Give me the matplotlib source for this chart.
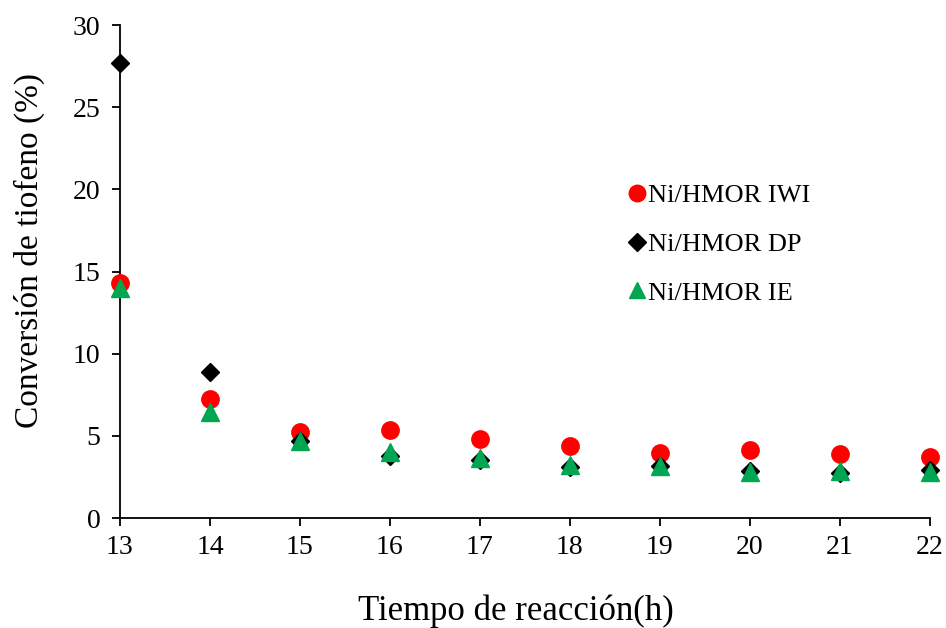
import matplotlib.pyplot as plt

plt.rcParams['font.family'] = ['Liberation Serif', 'DejaVu Serif']

tiempo = [13, 14, 15, 16, 17, 18, 19, 20, 21, 22]
iwi = [14.3, 7.25, 5.25, 5.36, 4.8, 4.38, 3.94, 4.14, 3.92, 3.73]
dp = [27.7, 8.9, 4.7, 3.75, 3.55, 3.12, 3.16, 2.88, 2.72, 2.92]
ie = [14.0, 6.45, 4.7, 4.05, 3.63, 3.22, 3.18, 2.82, 2.88, 2.82]

fig = plt.figure(figsize=(9.46, 6.28), dpi=100)
ax = fig.add_axes([0.1268, 0.175, 0.856, 0.785])

ax.plot(tiempo, iwi, 'o', color='#ff0000', ms=12.5, label='Ni/HMOR IWI',
        zorder=3, clip_on=False)
ax.plot(tiempo, dp, 'D', color='black', ms=9.5, label='Ni/HMOR DP',
        zorder=4, clip_on=False)
ax.plot(tiempo, ie, '^', color='#00a651', ms=12.5, label='Ni/HMOR IE',
        zorder=5, clip_on=False)

ax.set_xlim(13, 22)
ax.set_ylim(0, 30)
ax.set_xticks(range(13, 23))
ax.set_yticks(range(0, 31, 5))
for s in ['top', 'right']:
    ax.spines[s].set_visible(False)
for s in ['left', 'bottom']:
    ax.spines[s].set_linewidth(1.3)
ax.tick_params(direction='out', length=6, width=1.3, labelsize=20)
ax.tick_params(axis='x', pad=6)
ax.tick_params(axis='y', pad=8)

ax.set_xlabel('Tiempo de reacción(h)', fontsize=25)
ax.set_ylabel('Conversión de tiofeno (%)', fontsize=24)
ax.xaxis.set_label_coords(0.489, -0.155)
ax.yaxis.set_label_coords(-0.093, 0.542)

ax.legend(loc='upper left', bbox_to_anchor=(0.6, 0.726), frameon=False,
          fontsize=19, handlelength=0.6, handletextpad=0.1,
          labelspacing=0.95, markerscale=0.95)

plt.savefig('out.png', dpi=100)
